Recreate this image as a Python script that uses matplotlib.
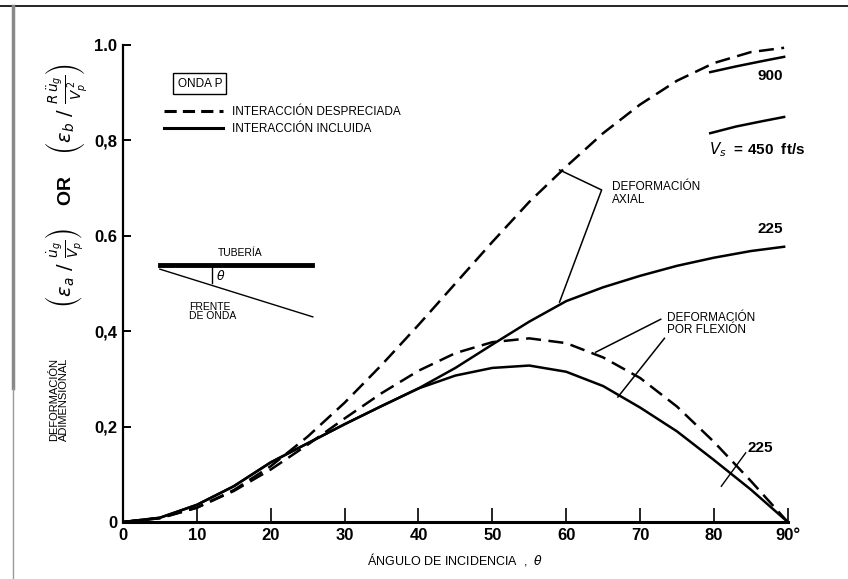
import matplotlib
matplotlib.use("Agg")
import matplotlib.pyplot as plt
from matplotlib.lines import Line2D

plt.rcParams['font.family'] = ['Liberation Sans', 'DejaVu Sans']
plt.rcParams['mathtext.fontset'] = 'dejavusans'

# angle of incidence (deg)
theta = [0, 5, 10, 15, 20, 25, 30, 35, 40, 45, 50, 55, 60, 65, 70, 75, 80, 85, 89.5]
theta_b = [0, 5, 10, 15, 20, 25, 30, 35, 40, 45, 50, 55, 60, 65, 70, 75, 80, 85, 90]

# interaction neglected (dashed)
axial_neglected = [0, 0.008, 0.03, 0.067, 0.117, 0.179, 0.25, 0.329, 0.413, 0.5,
                   0.587, 0.671, 0.745, 0.815, 0.875, 0.925, 0.962, 0.985, 0.994]
bending_neglected = [0, 0.008, 0.03, 0.065, 0.11, 0.162, 0.217, 0.27, 0.317, 0.354,
                     0.377, 0.385, 0.375, 0.345, 0.302, 0.242, 0.168, 0.086, 0.0]

# interaction included (solid), Vs = 225 ft/s
axial_225 = [0, 0.009, 0.036, 0.075, 0.125, 0.165, 0.205, 0.243, 0.28, 0.323,
             0.372, 0.42, 0.463, 0.492, 0.516, 0.537, 0.554, 0.568, 0.577]
bending_225 = [0, 0.009, 0.036, 0.075, 0.125, 0.165, 0.205, 0.243, 0.28, 0.307,
               0.323, 0.328, 0.315, 0.285, 0.24, 0.19, 0.13, 0.068, 0.0]

# axial, Vs = 450 and 900 ft/s (only the end part is drawn)
theta_end = [79.5, 83, 86.5, 89.5]
axial_450 = [0.815, 0.829, 0.840, 0.849]
axial_900 = [0.943, 0.955, 0.966, 0.975]

x_ticks = [0, 10, 20, 30, 40, 50, 60, 70, 80, 90]
x_labels = ['0', '10', '20', '30', '40', '50', '60', '70', '80', '90°']
y_ticks = [0, 0.2, 0.4, 0.6, 0.8, 1.0]
y_labels = ['0', '0,2', '0,4', '0.6', '0,8', '1.0']

dash = (0, (6, 3))
lw = 1.8

fig = plt.figure(figsize=(8.48, 5.79), dpi=100)
ax = fig.add_axes([0.145, 0.0984, 0.784, 0.824])

ax.plot(theta, axial_neglected, color='black', lw=lw, linestyle=dash)
ax.plot(theta_b, bending_neglected, color='black', lw=lw, linestyle=dash)
ax.plot(theta, axial_225, color='black', lw=lw)
ax.plot(theta_b, bending_225, color='black', lw=lw)
ax.plot(theta_end, axial_450, color='black', lw=lw)
ax.plot(theta_end, axial_900, color='black', lw=lw)

ax.set_xlim(0, 90)
ax.set_ylim(0, 1.0)
for s in ['top', 'right']:
    ax.spines[s].set_visible(False)
ax.spines['left'].set_linewidth(1.6)
ax.spines['bottom'].set_linewidth(2.2)
ax.set_xticks(x_ticks)
ax.set_xticklabels(x_labels, fontsize=12, fontweight='bold')
ax.set_yticks(y_ticks)
ax.set_yticklabels(y_labels, fontsize=12, fontweight='bold')
ax.tick_params(axis='x', direction='in', length=10, width=1.2, pad=4)
ax.tick_params(axis='y', direction='in', length=6, width=1.4, pad=4)

ax.set_xlabel('ÁNGULO DE INCIDENCIA  ,  $\\theta$', fontsize=9, labelpad=6)

# y label (two parts)
fig.text(0.079, 0.68,
         r'$\left(\epsilon_a\ /\ \frac{\dot{u}_g}{V_p}\right)$    OR    '
         r'$\left(\epsilon_b\ /\ \frac{R\,\ddot{u}_g}{V_p^{\,2}}\right)$',
         rotation=90, ha='center', va='center', fontsize=14, fontweight='bold')
fig.text(0.07, 0.31, 'DEFORMACIÓN\nADIMENSIONAL', rotation=90, ha='center',
         va='center', fontsize=8, linespacing=0.95)

# ONDA P box
ax.text(10.4, 0.919, 'ONDA P', fontsize=8.5, ha='center', va='center',
        bbox=dict(boxstyle='square,pad=0.35', fc='white', ec='black', lw=1))

# legend
handles = [Line2D([], [], color='black', lw=2.2, linestyle=(0, (4, 2))),
           Line2D([], [], color='black', lw=2.2)]
ax.legend(handles, ['INTERACCIÓN DESPRECIADA', 'INTERACCIÓN INCLUIDA'],
          loc='center left', bbox_to_anchor=(0.045, 0.842), frameon=False,
          fontsize=8.5, handlelength=5, handletextpad=0.8, labelspacing=0.4)

# pipe / wave front sketch
ax.plot([5.0, 25.6], [0.539, 0.539], color='black', lw=3.5)
ax.plot([5.0, 25.7], [0.530, 0.430], color='black', lw=1)
ax.plot([12.0, 12.0], [0.537, 0.500], color='black', lw=1)
ax.text(15.8, 0.553, 'TUBERÍA', fontsize=7.5, ha='center', va='bottom')
ax.text(12.6, 0.516, '$\\theta$', fontsize=9, ha='left', va='center')
ax.text(9.0, 0.462, 'FRENTE\nDE ONDA', fontsize=7.5, ha='left', va='top',
        linespacing=0.95)

# curve labels
ax.text(89.3, 0.935, '900', fontsize=11, fontweight='bold', ha='right', va='center')
ax.text(79.4, 0.78, '$V_s$  = 450  ft/s', fontsize=11, fontweight='bold',
        ha='left', va='center')
ax.text(89.3, 0.614, '225', fontsize=11, fontweight='bold', ha='right', va='center')
ax.text(84.6, 0.155, '225', fontsize=11, fontweight='bold', ha='left', va='center')
ax.plot([81.0, 84.3], [0.075, 0.145], color='black', lw=1)

ax.text(66.2, 0.688, 'DEFORMACIÓN\nAXIAL', fontsize=8.5, ha='left', va='center',
        linespacing=1.1)
ax.plot([59.1, 64.8, 59.1], [0.738, 0.696, 0.461], color='black', lw=1.1)

ax.text(73.6, 0.415, 'DEFORMACIÓN\nPOR FLEXIÓN', fontsize=8.5, ha='left',
        va='center', linespacing=1.1)
ax.plot([72.8, 64.0], [0.425, 0.356], color='black', lw=1.1)
ax.plot([73.3, 67.0], [0.385, 0.262], color='black', lw=1.1)

# page border lines
fig.add_artist(Line2D([0.0, 1.0], [0.99, 0.99], color='black', lw=1.2))
fig.add_artist(Line2D([0.015, 0.015], [0.33, 0.99], color='#888888', lw=2.5))
fig.add_artist(Line2D([0.015, 0.015], [0.0, 0.33], color='#999999', lw=1))

fig.savefig('out.png', dpi=100)
